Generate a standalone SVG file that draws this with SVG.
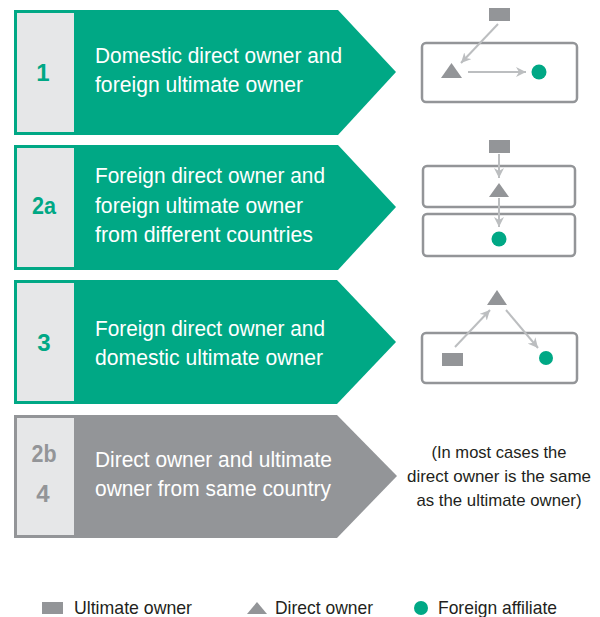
<svg xmlns="http://www.w3.org/2000/svg" width="600" height="617" viewBox="0 0 600 617">
<style>
.bg{fill:#ffffff}
.green{fill:#00A885}
.grey{fill:#939598}
.light{fill:#E6E7E8}
.lbl{font-family:"Liberation Sans",Arial,sans-serif;font-size:22px;fill:#ffffff}
.num{font-family:"Liberation Sans",Arial,sans-serif;font-size:24px;font-weight:bold;text-anchor:middle}
.numg{fill:#00A885}
.numy{fill:#939598}
.box{fill:#ffffff;stroke:#939598;stroke-width:2.5}
.arr{stroke:#BCBEC0;stroke-width:2;fill:none;marker-end:url(#ah)}
.note{font-family:"Liberation Sans",Arial,sans-serif;font-size:17px;fill:#231F20;text-anchor:middle}
.leg{font-family:"Liberation Sans",Arial,sans-serif;font-size:19px;fill:#231F20}
</style>
<defs>
<marker id="ah" viewBox="0 0 10 10" refX="10" refY="5" markerWidth="10" markerHeight="10" markerUnits="userSpaceOnUse" orient="auto">
<path d="M0,0 L10,5 L0,10 L3,5 z" fill="#BCBEC0"/>
</marker>
</defs>
<rect class="bg" x="0" y="0" width="600" height="617"/>

<g id="row1">
<polygon class="green" points="14,10 338,10 396,72 338,135 14,135"/>
<rect class="light" x="17" y="13" width="57" height="119"/>
<text class="num numg" x="43" y="81">1</text>
<text class="lbl" x="95" y="63" textLength="247" lengthAdjust="spacingAndGlyphs">Domestic direct owner and</text>
<text class="lbl" x="95" y="92" textLength="208" lengthAdjust="spacingAndGlyphs">foreign ultimate owner</text>
</g>

<g id="row2a">
<polygon class="green" points="14,145 338,145 396,207 338,270 14,270"/>
<rect class="light" x="17" y="148" width="57" height="119"/>
<text class="num numg" x="44" y="214" textLength="24" lengthAdjust="spacingAndGlyphs">2a</text>
<text class="lbl" x="95" y="183" textLength="230" lengthAdjust="spacingAndGlyphs">Foreign direct owner and</text>
<text class="lbl" x="95" y="213" textLength="208" lengthAdjust="spacingAndGlyphs">foreign ultimate owner</text>
<text class="lbl" x="95" y="242" textLength="218" lengthAdjust="spacingAndGlyphs">from different countries</text>
</g>

<g id="row3">
<polygon class="green" points="14,280 337,280 396,342 337,404 14,404"/>
<rect class="light" x="17" y="283" width="57" height="118"/>
<text class="num numg" x="44" y="351">3</text>
<text class="lbl" x="95" y="336" textLength="230" lengthAdjust="spacingAndGlyphs">Foreign direct owner and</text>
<text class="lbl" x="95" y="365" textLength="228" lengthAdjust="spacingAndGlyphs">domestic ultimate owner</text>
</g>

<g id="row4">
<polygon class="grey" points="14,415 337,415 397,476 337,538 14,538"/>
<rect class="light" x="17" y="418" width="57" height="117"/>
<text class="num numy" x="44" y="462" textLength="25" lengthAdjust="spacingAndGlyphs">2b</text>
<text class="num numy" x="43" y="502">4</text>
<text class="lbl" x="95" y="467" textLength="237" lengthAdjust="spacingAndGlyphs">Direct owner and ultimate</text>
<text class="lbl" x="95" y="496" textLength="236" lengthAdjust="spacingAndGlyphs">owner from same country</text>
</g>

<g id="diag1">
<rect class="box" x="422" y="43" width="155" height="59" rx="4"/>
<rect class="grey" x="489" y="8" width="21" height="13"/>
<polygon class="grey" points="441,78 451.5,63 462,78"/>
<circle class="green" cx="539" cy="72" r="7.5"/>
</g>

<g id="diag2a">
<rect class="box" x="423" y="166" width="152" height="41" rx="4"/>
<rect class="box" x="423" y="214" width="152" height="42" rx="4"/>
<rect class="grey" x="489" y="140" width="21" height="13"/>
<polygon class="grey" points="489,197 499,183 509,197"/>
<circle class="green" cx="499" cy="239" r="7.5"/>
</g>

<g id="diag3">
<rect class="box" x="422" y="333" width="155" height="50" rx="4"/>
<polygon class="grey" points="487,305 497,290 507,305"/>
<rect class="grey" x="442" y="353" width="21" height="13"/>
<circle class="green" cx="546" cy="358" r="7"/>
</g>

<g id="note4">
<text class="note" x="499" y="458" textLength="135" lengthAdjust="spacingAndGlyphs">(In most cases the</text>
<text class="note" x="499" y="482" textLength="184" lengthAdjust="spacingAndGlyphs">direct owner is the same</text>
<text class="note" x="499" y="506" textLength="165" lengthAdjust="spacingAndGlyphs">as the ultimate owner)</text>
</g>

<g id="connectors">
<line class="arr" x1="498" y1="24" x2="461" y2="63"/>
<line class="arr" x1="468" y1="72" x2="526" y2="72"/>
<line class="arr" x1="499" y1="154" x2="499" y2="178"/>
<line class="arr" x1="499" y1="198" x2="499" y2="227"/>
<line class="arr" x1="455" y1="347" x2="490" y2="310"/>
<line class="arr" x1="506" y1="310" x2="538" y2="348"/>
</g>

<g id="legend">
<rect class="grey" x="42" y="602" width="21" height="12"/>
<text class="leg" x="74" y="614" textLength="118" lengthAdjust="spacingAndGlyphs">Ultimate owner</text>
<polygon class="grey" points="247,614 257,602 267,614"/>
<text class="leg" x="275" y="614" textLength="98" lengthAdjust="spacingAndGlyphs">Direct owner</text>
<circle class="green" cx="421" cy="608" r="7"/>
<text class="leg" x="438" y="614" textLength="119" lengthAdjust="spacingAndGlyphs">Foreign affiliate</text>
</g>
</svg>
